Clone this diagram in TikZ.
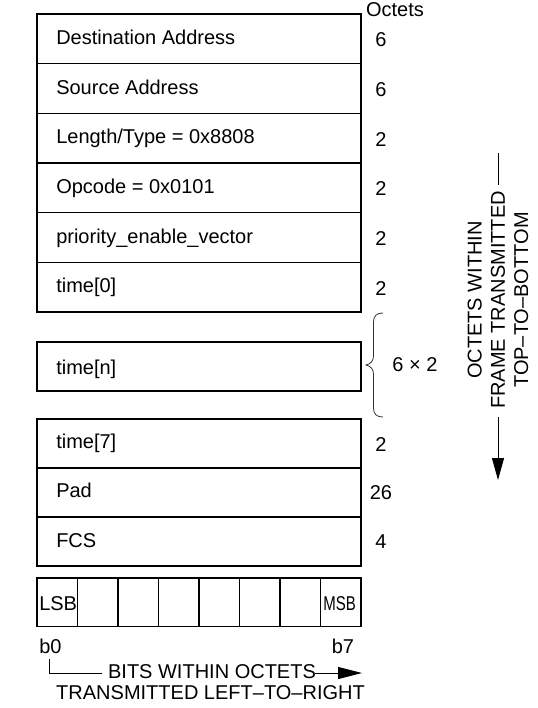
\documentclass[tikz,border=0pt]{standalone}
\usepackage{fontspec}
\usepackage{graphicx}
\setmainfont{Liberation Sans}
\usetikzlibrary{arrows.meta}
\begin{document}
\begin{tikzpicture}[x=0.75pt,y=-0.75pt,
  font=\fontsize{15}{17.5}\selectfont,
  field/.style={draw, line width=0.9pt, minimum width=243pt, minimum height=37.2pt, inner sep=0pt, anchor=north west},
  bitcell/.style={draw, line width=0.9pt, minimum width=30.375pt, minimum height=36.5pt, inner sep=0pt, anchor=north west},
  lbl/.style={anchor=base west, inner sep=0pt},
  num/.style={anchor=base, inner sep=0pt},
  thinline/.style={line width=0.75pt},
  bigtip/.style={-{Triangle[length=16.5pt,width=9pt]}}
]
\useasboundingbox (0,0) rectangle (537,708);

% frame fields
\node[field] (dest) at (36.3,13.3) {};
\node[field] (src)  at (36.3,63) {};
\node[field] (len)  at (36.3,112.7) {};
\node[field] (opc)  at (36.3,162.3) {};
\node[field] (pev)  at (36.3,212) {};
\node[field] (t0)   at (36.3,261.7) {};
\node[field, minimum height=36.75pt] (tn) at (36.3,341.3) {};
\node[field, minimum height=36.75pt] (t7) at (36.3,418.3) {};
\node[field, minimum height=36.75pt] (pad) at (36.3,467.3) {};
\node[field, minimum height=36.75pt] (fcs) at (36.3,516.3) {};

% field labels
\node[lbl] (ldest) at (56,44.8) {Destination Address};
\node[lbl] (lsrc)  at (56,94) {Source Address};
\node[lbl] (llen)  at (56,143.2) {Length/Type = 0x8808};
\node[lbl] (lopc)  at (56,193) {Opcode = 0x0101};
\node[lbl] (lpev)  at (56,243) {priority\_enable\_vector};
\node[lbl] (lt0)   at (56,292.7) {time[0]};
\node[lbl] (ltn)   at (56,374) {time[n]};
\node[lbl] (lt7)   at (56,448.8) {time[7]};
\node[lbl] (lpad)  at (56,497.8) {Pad};
\node[lbl] (lfcs)  at (56,547) {FCS};

% octet counts
\node[num] (oct) at (395,16) {Octets};
\node[num] (n1) at (381,46.8) {6};
\node[num] (n2) at (381,96.5) {6};
\node[num] (n3) at (381,146.2) {2};
\node[num] (n4) at (381,195.8) {2};
\node[num] (n5) at (381,245.5) {2};
\node[num] (n6) at (381,295.2) {2};
\node[num] (n7) at (381,451.5) {2};
\node[num] (n8) at (381,499.5) {26};
\node[num] (n9) at (381,548.5) {4};
\node[num] (nx) at (415,371) {6 × 2};

% brace
\draw[line width=0.6pt, black!80]
  (383,313) .. controls (376.5,313) and (373.5,316) .. (373.5,322)
  -- (373.5,356) .. controls (373.5,361) and (370.5,364) .. (366,365)
  .. controls (370.5,366) and (373.5,369) .. (373.5,374)
  -- (373.5,408) .. controls (373.5,414) and (376.5,417) .. (383,417);

% bit cells
\foreach \i in {0,...,7} {
  \node[bitcell] (bit\i) at ({36.3+40.5*\i},577.3) {};
}
\node[lbl] (lsb) at (39,610) {LSB};
\node[lbl] (msb) at (323,610) {\scalebox{0.75}[1]{MSB}};
\node[lbl] (b0) at (39,653) {b0};
\node[lbl] (b7) at (331.5,653) {b7};

% bits arrow
\coordinate (bstart) at (49,659);
\coordinate (bmid) at (102,673);
\coordinate (bres) at (315,673);
\coordinate (btip) at (362,673);
\draw[thinline] (bstart) |- (bmid);
\draw[thinline, -{Triangle[length=18pt,width=9pt]}] (bres) -- (btip);
\node[num] (bits) at (212,678.5) {BITS WITHIN OCTETS};
\node[num] (ltr) at (210.5,699.5) {TRANSMITTED LEFT–TO–RIGHT};

% octets arrow
\coordinate (vtop) at (498,153);
\coordinate (vtop2) at (498,185);
\coordinate (vbot) at (498,417);
\coordinate (vtip) at (498,480);
\draw[thinline] (vtop) -- (vtop2);
\draw[thinline, bigtip] (vbot) -- (vtip);
\node[rotate=90, align=center, inner sep=0pt] (vtext) at (498,300)
  {OCTETS WITHIN\\FRAME TRANSMITTED\\TOP–TO–BOTTOM};
\end{tikzpicture}
\end{document}
